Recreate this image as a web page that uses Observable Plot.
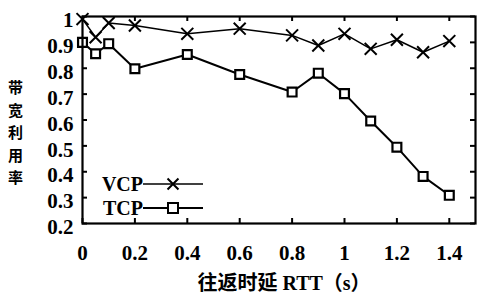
<!DOCTYPE html>
<html><head><meta charset="utf-8">
<script src="https://cdn.jsdelivr.net/npm/d3@7"></script>
<script src="https://cdn.jsdelivr.net/npm/@observablehq/plot@0.6"></script>
<style>
body{margin:0;background:#fff;}
#chart{position:relative;width:477px;height:295px;}
</style>
</head><body>
<div id="chart"></div>
<script>
const rtt = [0, 0.05, 0.1, 0.2, 0.4, 0.6, 0.8, 0.9, 1.0, 1.1, 1.2, 1.3, 1.4];
const vcp = [0.99, 0.92, 0.975, 0.965, 0.933, 0.953, 0.927, 0.888, 0.933, 0.875, 0.91, 0.862, 0.905];
const tcp = [0.90, 0.856, 0.895, 0.798, 0.853, 0.776, 0.708, 0.781, 0.702, 0.596, 0.495, 0.382, 0.309];
const xTicks = [0, 0.2, 0.4, 0.6, 0.8, 1, 1.2, 1.4];
const yTicks = [0.2, 0.3, 0.4, 0.5, 0.6, 0.7, 0.8, 0.9, 1];
const seriesNames = ["VCP", "TCP"];
const xLabel = "往返时延 RTT（s）";
const yLabel = "带宽利用率";

const vcpData = rtt.map((x, i) => ({x, y: vcp[i]}));
const tcpData = rtt.map((x, i) => ({x, y: tcp[i]}));

const W = 477, H = 295, mL = 82, mR = 2, mT = 16, mB = 72;
const pw = W - mL - mR, ph = H - mT - mB;
const serif = "'Liberation Serif','Times New Roman',serif";

const yChars = yLabel.split("").map((c, i) => ({c, i}));

const plot = Plot.plot({
  width: W, height: H,
  marginLeft: mL, marginRight: mR, marginTop: mT, marginBottom: mB,
  style: {fontFamily: serif, background: "#fff", color: "#000"},
  x: {domain: [0, 1.5]},
  y: {domain: [0.2, 1]},
  marks: [
    Plot.axisX({ticks: xTicks, tickSize: 0, tickPadding: 22, tickFormat: d => String(d),
      fontSize: 21, fontWeight: "bold", label: null}),
    Plot.axisY({ticks: yTicks, tickSize: 0, tickPadding: 9, dy: 4, tickFormat: d => String(d),
      fontSize: 21, fontWeight: "bold", label: null}),
    Plot.tickX(xTicks, {x: d => d, insetTop: ph - 5, strokeWidth: 2}),
    Plot.tickX(xTicks, {x: d => d, insetBottom: ph - 5, strokeWidth: 2}),
    Plot.tickY(yTicks, {y: d => d, insetRight: pw - 5, strokeWidth: 2}),
    Plot.tickY(yTicks, {y: d => d, insetLeft: pw - 5, strokeWidth: 2}),
    Plot.line(vcpData, {x: "x", y: "y", stroke: "#000", strokeWidth: 1.5}),
    Plot.line(tcpData, {x: "x", y: "y", stroke: "#000", strokeWidth: 2}),
    Plot.dot(vcpData, {x: "x", y: "y", symbol: "times", r: 5.5, stroke: "#000", strokeWidth: 2}),
    Plot.dot(tcpData, {x: "x", y: "y", symbol: "square", r: 5, stroke: "#000", fill: "#fff", strokeWidth: 2.2}),
    Plot.frame({stroke: "#000", strokeWidth: 2.2}),
    Plot.text([xLabel], {text: d => d, frameAnchor: "bottom", lineAnchor: "middle", dy: 60, dx: 5, fontSize: 20,
      fontWeight: "bold", fontFamily: "'Liberation Serif','Noto Sans CJK SC',serif"}),
    ...yChars.map(({c, i}) => Plot.text([c], {text: d => d, frameAnchor: "left", lineAnchor: "middle",
      textAnchor: "middle", dx: -67, dy: 13.5 + (i - 2) * 22.5, fontSize: 15, fontWeight: "bold",
      fontFamily: "'Noto Sans CJK SC',sans-serif"}))
  ]
});
document.getElementById("chart").appendChild(plot);

// legend
const svg = d3.select(plot);
const lg = svg.append("g");
const rows = [{name: seriesNames[0], y: 184, sym: d3.symbolTimes, sw: 1.5, fill: "none"},
              {name: seriesNames[1], y: 208, sym: d3.symbolSquare, sw: 2.2, fill: "#fff"}];
rows.forEach(r => {
  lg.append("text").attr("x", 143).attr("y", r.y).attr("dy", "0.35em").attr("text-anchor", "end")
    .attr("font-family", serif).attr("font-size", 20).attr("font-weight", "bold").text(r.name);
  lg.append("line").attr("x1", 143).attr("x2", 203).attr("y1", r.y).attr("y2", r.y)
    .attr("stroke", "#000").attr("stroke-width", r.sw);
  lg.append("path").attr("transform", `translate(173,${r.y})`)
    .attr("d", d3.symbol(r.sym, r.sym === d3.symbolSquare ? 100 : 80)())
    .attr("stroke", "#000").attr("stroke-width", 2).attr("fill", r.fill);
});
</script>
</body></html>
